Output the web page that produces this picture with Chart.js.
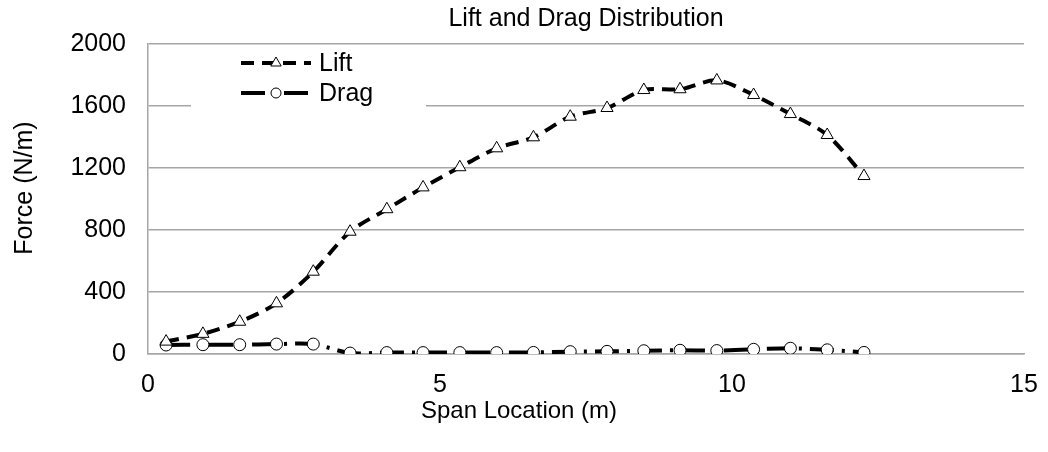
<!DOCTYPE html>
<html>
<head>
<meta charset="utf-8">
<script src="https://cdn.jsdelivr.net/npm/chart.js@4.4.1/dist/chart.umd.min.js"></script>
<style>
  html, body { margin: 0; padding: 0; background: #ffffff; }
  #wrap { width: 1048px; height: 452px; position: relative; }
</style>
</head>
<body>
<div id="wrap"><canvas id="c" width="1048" height="452"></canvas></div>
<script>
// ---- data ----
const spanLocation = [0.31, 0.94, 1.57, 2.20, 2.83, 3.46, 4.09, 4.71, 5.34, 5.97,
                      6.60, 7.23, 7.86, 8.49, 9.11, 9.74, 10.37, 11.00, 11.63, 12.26];
const liftValues = [80, 130, 208, 327, 531, 789, 934, 1075, 1205, 1327,
                    1398, 1531, 1587, 1703, 1708, 1765, 1671, 1548, 1413, 1148];
const dragValues = [58, 60, 60, 64, 64, 6, 9, 9, 9, 9,
                    10, 15, 17, 21, 24, 22, 30, 37, 27, 10];
const seriesNames = ['Lift', 'Drag'];
const chartTitle = 'Lift and Drag Distribution';
const xTitle = 'Span Location (m)';
const yTitle = 'Force (N/m)';
const xRange = [0, 15], xStep = 5;
const yRange = [0, 2000], yStep = 400;

const FONT = "'Liberation Sans', Arial, sans-serif";
const FS = 25;
const GRID = '#a6a6a6';

const liftStyle = { dash: [13, 8], width: 4, marker: 'triangle', radius: 7 };
const dragStyle = { dash: [24, 8, 3, 8], width: 4, marker: 'circle', radius: 6 };

function pts(xs, ys) { return xs.map((x, i) => ({ x: x, y: ys[i] })); }

// axis titles, placed like the reference (not centred on the plot)
const axisTitlePlugin = {
  id: 'axisTitles',
  afterDraw(chart) {
    const ctx = chart.ctx;
    ctx.save();
    ctx.fillStyle = '#000';
    ctx.textAlign = 'center';
    ctx.textBaseline = 'middle';
    ctx.font = '24px ' + FONT;
    ctx.fillText(xTitle, 519, 411);
    ctx.translate(25, 188);
    ctx.rotate(-Math.PI / 2);
    ctx.font = FS + 'px ' + FONT;
    ctx.fillText(yTitle, 0, 0);
    ctx.restore();
  }
};

const legendPlugin = {
  id: 'excelLegend',
  afterDraw(chart) {
    const ctx = chart.ctx;
    ctx.save();
    ctx.fillStyle = '#ffffff';
    ctx.fillRect(191, 48, 235, 62);
    const rows = [
      { name: seriesNames[0], st: liftStyle, y: 63 },
      { name: seriesNames[1], st: dragStyle, y: 93 }
    ];
    rows.forEach(r => {
      ctx.strokeStyle = '#000';
      ctx.lineWidth = r.st.width;
      ctx.setLineDash(r.st.dash);
      ctx.beginPath();
      ctx.moveTo(241, r.y);
      ctx.lineTo(311, r.y);
      ctx.stroke();
      ctx.setLineDash([]);
      ctx.fillStyle = '#fff';
      ctx.lineWidth = 1;
      ctx.strokeStyle = '#000';
      ctx.beginPath();
      if (r.st.marker === 'circle') {
        ctx.arc(276, r.y, r.st.radius - 1, 0, Math.PI * 2);
      } else {
        const rr = r.st.radius - 1;
        ctx.moveTo(276, r.y - rr);
        ctx.lineTo(276 + rr * 0.866, r.y + rr * 0.5);
        ctx.lineTo(276 - rr * 0.866, r.y + rr * 0.5);
        ctx.closePath();
      }
      ctx.fill();
      ctx.stroke();
      ctx.fillStyle = '#000';
      ctx.font = FS + 'px ' + FONT;
      ctx.textBaseline = 'middle';
      ctx.textAlign = 'left';
      ctx.fillText(r.name, 319, r.y + 1);
    });
    ctx.restore();
  }
};

new Chart(document.getElementById('c'), {
  type: 'scatter',
  data: {
    datasets: [
      {
        label: seriesNames[0],
        data: pts(spanLocation, liftValues),
        showLine: true,
        tension: 0.3,
        borderColor: '#000',
        borderWidth: liftStyle.width,
        borderDash: liftStyle.dash,
        pointStyle: liftStyle.marker,
        pointRadius: liftStyle.radius,
        pointBackgroundColor: '#fff',
        pointBorderColor: '#000',
        pointBorderWidth: 1
      },
      {
        label: seriesNames[1],
        data: pts(spanLocation, dragValues),
        showLine: true,
        tension: 0.3,
        borderColor: '#000',
        borderWidth: dragStyle.width,
        borderDash: dragStyle.dash,
        pointStyle: dragStyle.marker,
        pointRadius: dragStyle.radius,
        pointBackgroundColor: '#fff',
        pointBorderColor: '#000',
        pointBorderWidth: 1
      }
    ]
  },
  options: {
    responsive: false,
    animation: false,
    devicePixelRatio: 1,
    layout: { padding: { left: 10, right: 24, top: 0, bottom: 20 } },
    plugins: {
      legend: { display: false },
      tooltip: { enabled: false },
      title: {
        display: true,
        fullSize: false,
        text: chartTitle,
        color: '#000',
        font: { family: FONT, size: FS, weight: 'normal', lineHeight: 1.2 },
        padding: { top: 4, bottom: 10 }
      }
    },
    scales: {
      x: {
        type: 'linear',
        min: xRange[0], max: xRange[1],
        afterFit(s) { s.height = 78; s.paddingRight = 0; s.paddingLeft = 0; },
        ticks: { stepSize: xStep, color: '#000', padding: 16,
                 font: { family: FONT, size: FS },
                 callback: v => String(v) },
        grid: { display: false, drawTicks: false },
        border: { display: true, color: GRID, width: 1.5 },
        title: { display: false }
      },
      y: {
        type: 'linear',
        min: yRange[0], max: yRange[1],
        afterFit(s) { s.width = 138; },
        ticks: { stepSize: yStep, color: '#000', padding: 22,
                 font: { family: FONT, size: FS },
                 callback: v => String(v) },
        grid: { color: GRID, lineWidth: 1.5, drawTicks: false },
        border: { display: true, color: GRID, width: 1.5 },
        title: { display: false }
      }
    }
  },
  plugins: [legendPlugin, axisTitlePlugin]
});
</script>
</body>
</html>
